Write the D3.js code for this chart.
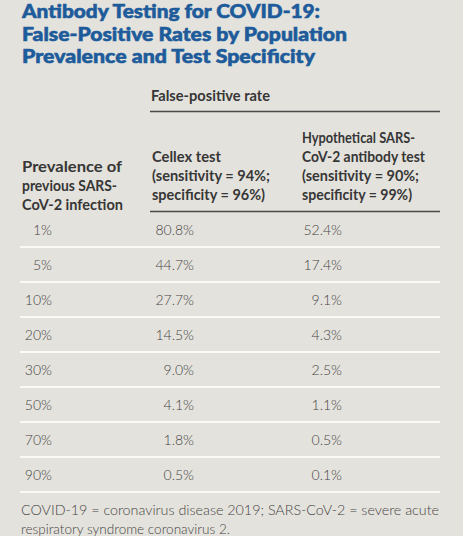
<!DOCTYPE html>
<html><head><meta charset="utf-8">
<script src="https://cdn.jsdelivr.net/npm/d3@7"></script>
<style>
html,body{margin:0;padding:0;background:#e4e2dc;}
svg{display:block;}
</style></head>
<body>
<script>
const titleLines = ["Antibody Testing for COVID-19:", "False-Positive Rates by Population", "Prevalence and Test Specificity"];
const spannerLabel = "False-positive rate";
const rowHeaderLines = ["Prevalence of", "previous SARS-", "CoV-2 infection"];
const col1HeaderLines = ["Cellex test", "(sensitivity = 94%;", "specificity = 96%)"];
const col2HeaderLines = ["Hypothetical SARS-", "CoV-2 antibody test", "(sensitivity = 90%;", "specificity = 99%)"];
const prevalence = ["1%", "5%", "10%", "20%", "30%", "50%", "70%", "90%"];
const cellex = ["80.8%", "44.7%", "27.7%", "14.5%", "9.0%", "4.1%", "1.8%", "0.5%"];
const hypothetical = ["52.4%", "17.4%", "9.1%", "4.3%", "2.5%", "1.1%", "0.5%", "0.1%"];
const footnoteLines = ["COVID-19 = coronavirus disease 2019; SARS-CoV-2 = severe acute", "respiratory syndrome coronavirus 2."];

const W = 463, H = 536;
const svg = d3.select("body").append("svg").attr("width", W).attr("height", H);
svg.append("rect").attr("width", W).attr("height", H).attr("fill", "#e4e2dc");

const font = "Lato, 'Open Sans', sans-serif";
const blue = "#1d5b9b";
const textDark = "#363636";
const textVal = "#454545";

// Title
const titleWidths = [298, 325, 293];
titleLines.forEach((t, i) => {
  svg.append("text").attr("x", 22).attr("y", 18 + i * 22.5)
    .attr("font-family", font).attr("font-weight", 900).attr("font-size", 19.5)
    .attr("fill", blue).attr("stroke", blue).attr("stroke-width", 0.6)
    .attr("textLength", titleWidths[i]).attr("lengthAdjust", "spacingAndGlyphs")
    .text(t);
});

// Spanner
svg.append("text").attr("x", 151).attr("y", 101)
  .attr("font-family", font).attr("font-weight", 700).attr("font-size", 14.3)
  .attr("fill", textDark).attr("textLength", 119).attr("lengthAdjust", "spacingAndGlyphs")
  .text(spannerLabel);
svg.append("line").attr("x1", 150).attr("x2", 440).attr("y1", 111.5).attr("y2", 111.5)
  .attr("stroke", "#4a4a48").attr("stroke-width", 1.6);

// Header blocks
function block(lines, x, yLast, widths) {
  const n = lines.length;
  lines.forEach((t, i) => {
    const el = svg.append("text").attr("x", x).attr("y", yLast - (n - 1 - i) * 19)
      .attr("font-family", font).attr("font-weight", 700).attr("font-size", 14.3)
      .attr("fill", textDark).text(t);
    if (widths && widths[i]) el.attr("textLength", widths[i]).attr("lengthAdjust", "spacingAndGlyphs");
  });
}
block(rowHeaderLines, 22, 210, [100, 95, 101]);
block(col1HeaderLines, 152, 200, [69, 118, 113]);
block(col2HeaderLines, 302, 200, [113, 123, 117, 110]);

svg.append("line").attr("x1", 150).attr("x2", 440).attr("y1", 211.5).attr("y2", 211.5)
  .attr("stroke", "#4a4a48").attr("stroke-width", 1.6);

// Rows
const y = d3.scaleBand().domain(prevalence).range([212, 492]).paddingInner(0).paddingOuter(0);
const rows = svg.append("g").selectAll("g").data(prevalence).join("g")
  .attr("transform", d => `translate(0,${y(d)})`);

rows.append("line").attr("x1", 20).attr("x2", 440)
  .attr("y1", y.bandwidth()).attr("y2", y.bandwidth())
  .attr("stroke", "#fbfaf5").attr("stroke-width", 2);

const valStyle = sel => sel.attr("font-family", font).attr("font-weight", 300)
  .attr("font-size", 14).attr("fill", textVal).attr("text-anchor", "end")
  .attr("y", y.bandwidth() / 2 + 5);

rows.append("text").call(valStyle).attr("x", 52).text(d => d);
rows.append("text").call(valStyle).attr("x", 194).text((d, i) => cellex[i]);
rows.append("text").call(valStyle).attr("x", 342).text((d, i) => hypothetical[i]);

// Footnote
const fnWidths = [418, 209];
footnoteLines.forEach((t, i) => {
  svg.append("text").attr("x", 21).attr("y", 515 + i * 19)
    .attr("font-family", font).attr("font-weight", 300).attr("font-size", 13.3)
    .attr("fill", textVal).attr("textLength", fnWidths[i]).attr("lengthAdjust", "spacingAndGlyphs")
    .text(t);
});
</script>
</body></html>
